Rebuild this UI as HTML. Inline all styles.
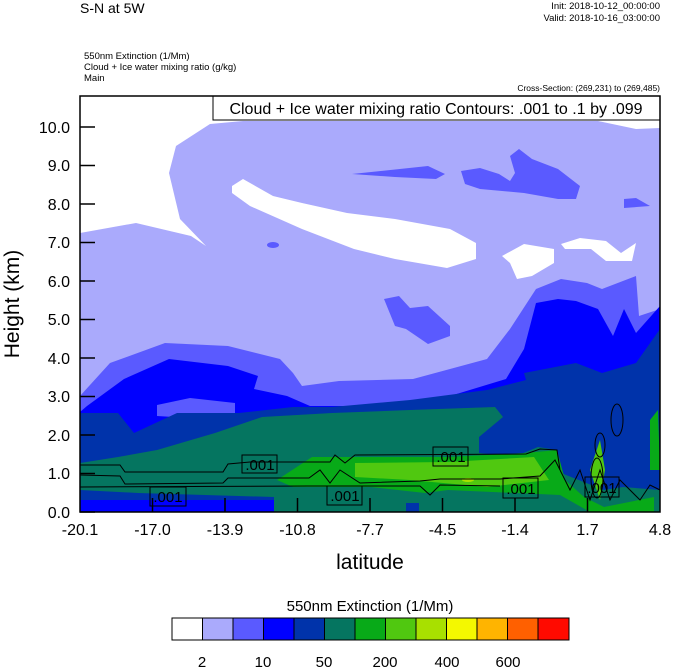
<!DOCTYPE html>
<html><head><meta charset="utf-8"><style>
html,body{margin:0;padding:0;background:#fff;}
svg{display:block;font-family:"Liberation Sans",sans-serif;}
</style></head><body>
<svg width="674" height="668" viewBox="0 0 674 668" xmlns="http://www.w3.org/2000/svg">
<rect width="674" height="668" fill="#fff"/>
<text x="80" y="13" font-size="14">S-N at 5W</text>
<text x="660" y="9" font-size="9.5" text-anchor="end">Init: 2018-10-12_00:00:00</text>
<text x="660" y="21" font-size="9.5" text-anchor="end">Valid: 2018-10-16_03:00:00</text>
<text x="84" y="59" font-size="9.5">550nm Extinction   (1/Mm)</text>
<text x="84" y="70" font-size="9.5">Cloud + Ice water mixing ratio   (g/kg)</text>
<text x="84" y="81" font-size="9.5">Main</text>
<text x="660" y="91" font-size="8.5" text-anchor="end">Cross-Section: (269,231) to (269,485)</text>
<clipPath id="c"><rect x="80" y="96" width="580" height="416"/></clipPath>
<g clip-path="url(#c)">
<rect x="80" y="96" width="580" height="416" fill="#fff"/>
<!-- lavender -->
<path fill="#aaaafc" d="M80,233 L136,223 L191,236 L206,246 L180,219 L169,173 L176,146 L210,124 L243,121 L598,121 L636,129 L660,128 L660,512 L80,512Z"/>
<!-- white blobs -->
<path fill="#fff" d="M232,186 L243,179 L273,196 L302,203 L347,213 L395,219 L450,229 L476,243 L476,259 L447,268 L395,259 L354,249 L302,229 L250,206 L232,193Z"/>
<path fill="#fff" d="M502,256 L524,244 L554,249 L554,263 L532,276 L517,279 L510,263Z"/>
<path fill="#fff" d="M561,244 L580,238 L606,241 L621,253 L636,243 L632,261 L606,261 L591,249 L565,249Z"/>
<!-- medium blue patches -->
<g fill="#5a5aff">
<path d="M352,174 L428,166 L445,174 L436,179 L395,177Z"/>
<path d="M461,171 L480,168 L499,174 L510,181 L515,173 L510,156 L519,149 L532,159 L558,169 L580,186 L576,199 L558,199 L524,193 L480,189 L465,184Z"/>
<path d="M624,199 L636,198 L650,206 L624,208Z"/>
<path d="M384,299 L399,296 L410,308 L428,306 L450,326 L450,336 L428,344 L406,329 L395,326Z"/>
<ellipse cx="273" cy="245" rx="6" ry="3"/>
<path d="M80,396 L110,363 L165,343 L228,346 L280,359 L293,373 L302,386 L339,381 L413,379 L487,359 L510,329 L536,289 L561,279 L587,283 L602,289 L636,276 L639,316 L660,309 L660,512 L80,512Z"/>
</g>
<!-- blue -->
<path fill="#0000ff" d="M80,412 L87,406 L124,379 L169,359 L228,366 L258,376 L254,389 L287,396 L310,406 L413,406 L450,396 L506,379 L524,349 L536,303 L558,299 L576,301 L598,309 L613,336 L624,309 L636,333 L660,306 L660,512 L80,512Z"/>
<path fill="#5a5aff" d="M157,405 L190,398 L235,403 L235,417 L190,418 L157,416Z"/>
<!-- dark blue -->
<path fill="#0033aa" d="M80,413 L118,413 L134,433 L177,413 L239,413 L293,407 L332,407 L410,400 L487,390 L526,380 L524,373 L576,363 L602,373 L636,363 L660,329 L660,512 L80,512Z"/>
<!-- teal -->
<path fill="#057560" d="M80,463 L118,457 L157,450 L215,433 L262,417 L332,413 L410,410 L495,407 L503,417 L479,437 L479,453 L514,457 L538,447 L557,450 L561,473 L604,490 L623,487 L660,490 L660,512 L419,512 L419,503 L406,503 L406,512 L274,512 L274,497 L138,493 L80,490Z"/>
<path fill="#0000ff" d="M80,500 L274,500 L274,512 L80,512Z"/>
<path fill="#057560" d="M80,490 L138,493 L274,497 L274,500 L80,500Z" opacity="0"/>
<!-- green -->
<path fill="#08aa18" d="M277,480 L312,457 L355,457 L448,457 L526,453 L557,450 L565,480 L584,497 L604,507 L654,497 L654,512 L590,512 L560,495 L448,490 L425,493 L371,487 L293,487Z"/>
<path fill="#50c810" d="M355,463 L448,462 L534,457 L549,480 L487,487 L410,480 L355,477Z"/>
<path fill="#50c810" d="M590,470 L600,440 L605,470 L600,500Z"/>
<ellipse cx="468" cy="480" rx="6" ry="2" fill="#a8e000"/>
<path fill="#08aa18" d="M650,420 L658,410 L660,470 L650,470Z"/>
</g>
<!-- contour lines -->
<g fill="none" stroke="#000" stroke-width="1">
<path d="M80,465 L120,465 L125,472 L223,472 L228,464 L250,462 L330,462 L335,455 L345,463 L355,455 L526,454 L540,449 L557,450 L560,470"/>
<path d="M80,475 L120,476 L125,484 L223,483 L228,478 L309,478 L320,470 L330,483 L340,470 L360,483 L420,481 L440,479 L500,479 L540,476 L555,460 L560,470"/>
<path d="M80,487 L309,486 L420,486 L430,495 L440,485 L500,486"/>
<ellipse cx="617" cy="420" rx="6" ry="16"/>
<ellipse cx="600" cy="445" rx="5" ry="12"/>
<ellipse cx="597" cy="478" rx="6" ry="20"/>
<path d="M560,470 L570,490 L580,470 L590,500 L600,470 L610,500 L620,480 L640,500 L650,485 L660,490"/>
</g>
<g fill="none" stroke="#000" stroke-width="1">
<rect x="242" y="455" width="35" height="18"/>
<rect x="150" y="487" width="36" height="19"/>
<rect x="327" y="486" width="35" height="19"/>
<rect x="433" y="447" width="35" height="19"/>
<rect x="503" y="478" width="35" height="20"/>
<rect x="585" y="477" width="34" height="20"/>
</g>
<g font-size="15" text-anchor="middle">
<text x="260" y="470">.001</text>
<text x="168" y="502">.001</text>
<text x="345" y="501">.001</text>
<text x="451" y="462">.001</text>
<text x="521" y="494">.001</text>
<text x="602" y="493">.001</text>
</g>
<!-- title box -->
<rect x="213" y="96" width="447" height="24" fill="#fff" stroke="#000"/>
<text x="436" y="114" font-size="16" text-anchor="middle">Cloud + Ice water mixing ratio Contours: .001 to .1 by .099</text>
<rect x="80" y="96" width="580" height="416" fill="none" stroke="#000" stroke-width="1.5"/>
<!-- ticks -->
<g stroke="#000" stroke-width="1.5">
<path d="M80,512h15M80,473.5h15M80,435h15M80,396.5h15M80,358h15M80,319.5h15M80,281h15M80,242.5h15M80,204h15M80,165.5h15M80,127h15"/>
<path d="M152.5,512v-14M225,512v-14M297.5,512v-14M370,512v-14M442.5,512v-14M515,512v-14M587.5,512v-14"/>
</g>
<g font-size="16" text-anchor="end">
<text x="70" y="518">0.0</text><text x="70" y="479">1.0</text><text x="70" y="441">2.0</text>
<text x="70" y="402">3.0</text><text x="70" y="364">4.0</text><text x="70" y="325">5.0</text>
<text x="70" y="287">6.0</text><text x="70" y="248">7.0</text><text x="70" y="210">8.0</text>
<text x="70" y="171">9.0</text><text x="70" y="133">10.0</text>
</g>
<g font-size="16" text-anchor="middle">
<text x="80" y="535">-20.1</text><text x="152.5" y="535">-17.0</text><text x="225" y="535">-13.9</text>
<text x="297.5" y="535">-10.8</text><text x="370" y="535">-7.7</text><text x="442.5" y="535">-4.5</text>
<text x="515" y="535">-1.4</text><text x="587.5" y="535">1.7</text><text x="660" y="535">4.8</text>
</g>
<text x="370" y="569" font-size="21" text-anchor="middle">latitude</text>
<text transform="translate(19,304) rotate(-90)" font-size="21" text-anchor="middle">Height (km)</text>
<!-- colorbar -->
<text x="370" y="611" font-size="15" text-anchor="middle">550nm Extinction  (1/Mm)</text>
<g stroke="#000" stroke-width="1">
<rect x="172" y="618" width="30.5" height="22" fill="#ffffff"/>
<rect x="202.5" y="618" width="30.5" height="22" fill="#aaaafc"/>
<rect x="233" y="618" width="30.5" height="22" fill="#5a5aff"/>
<rect x="263.5" y="618" width="30.5" height="22" fill="#0000ff"/>
<rect x="294" y="618" width="30.5" height="22" fill="#0033aa"/>
<rect x="324.5" y="618" width="30.5" height="22" fill="#057560"/>
<rect x="355" y="618" width="30.5" height="22" fill="#08aa18"/>
<rect x="385.5" y="618" width="30.5" height="22" fill="#50c810"/>
<rect x="416" y="618" width="30.5" height="22" fill="#a8e000"/>
<rect x="446.5" y="618" width="30.5" height="22" fill="#f4f800"/>
<rect x="477" y="618" width="30.5" height="22" fill="#ffb400"/>
<rect x="507.5" y="618" width="30.5" height="22" fill="#ff6000"/>
<rect x="538" y="618" width="31" height="22" fill="#ff0a00"/>
</g>
<g font-size="15" text-anchor="middle">
<text x="202" y="667">2</text><text x="263" y="667">10</text><text x="324" y="667">50</text>
<text x="385" y="667">200</text><text x="447" y="667">400</text><text x="508" y="667">600</text>
</g>
</svg>
</body></html>
